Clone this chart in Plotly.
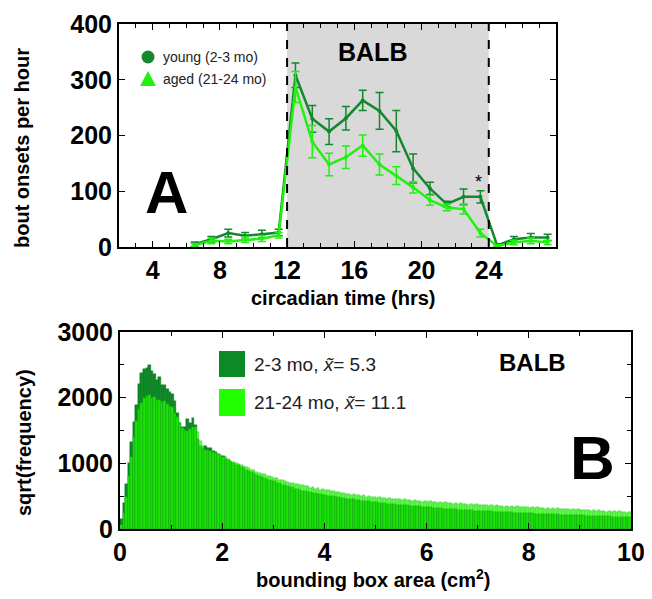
import plotly.graph_objects as go
from plotly.subplots import make_subplots
import numpy as np

# ---------------- Panel A data ----------------
hours = [6.5, 7.5, 8.5, 9.5, 10.5, 11.5, 12.5, 13.5, 14.5, 15.5, 16.5, 17.5,
         18.5, 19.5, 20.5, 21.5, 22.5, 23.5, 24.5, 25.5, 26.5, 27.5]
young_onsets = [5, 14, 25, 20, 23, 26, 308, 230, 207, 231, 263, 244,
                208, 141, 105, 77, 90, 90, 3, 14, 17, 17]
young_err = [4, 5, 7, 6, 7, 6, 22, 24, 23, 21, 18, 33,
             37, 26, 11, 5, 14, 11, 3, 5, 7, 6]
aged_onsets = [3, 11, 10, 13, 15, 21, 287, 189, 148, 161, 182, 148,
               128, 107, 84, 71, 68, 25, 2, 8, 11, 8]
aged_err = [3, 5, 4, 5, 5, 5, 28, 29, 20, 20, 19, 19,
            16, 10, 9, 6, 9, 7, 2, 4, 5, 4]
hour_ticks = [4, 8, 12, 16, 20, 24]
onset_ticks = [0, 100, 200, 300, 400]

# ---------------- Panel B data ----------------
bin_width = 0.05
young_sqrtfreq = [
    150, 390, 690, 1010, 1320, 1630, 1890, 2210, 2370, 2430,
    2450, 2490, 2400, 2360, 2270, 2310, 2200, 2190, 2130, 2090,
    2050, 1950, 1770, 1610, 1560, 1550, 1670, 1620, 1690, 1580,
    1370, 1270, 1240, 1260, 1230, 1240, 1190, 1180, 1140, 1110,
    1110, 1070, 1050, 1020, 1010, 980, 970, 940, 930, 900,
    890, 865, 850, 830, 805, 795, 775, 760, 745, 730,
    725, 700, 695, 675, 665, 655, 640, 635, 615, 605,
    600, 585, 580, 565, 560, 548, 545, 532, 528, 518,
    515, 508, 498, 496, 484, 482, 472, 470, 462, 460,
    452, 450, 442, 441, 433, 431, 424, 421, 412, 410,
    406, 403, 398, 396, 388, 386, 381, 379, 372, 370,
    366, 365, 358, 357, 351, 350, 344, 343, 337, 336,
    332, 331, 325, 323, 318, 317, 311, 309, 304, 302,
    299, 298, 294, 294, 290, 290, 286, 284, 281, 280,
    277, 276, 272, 272, 268, 268, 265, 263, 261, 260,
    257, 256, 253, 252, 249, 248, 246, 244, 242, 241,
    239, 238, 235, 235, 232, 231, 229, 228, 225, 224,
    222, 222, 219, 218, 216, 215, 213, 212, 210, 209,
    207, 206, 204, 203, 201, 200, 198, 197, 195, 194,
    192, 191, 189, 188, 186, 185, 183, 182, 180, 178,
]
aged_sqrtfreq = [
    60, 250, 490, 810, 1090, 1400, 1640, 1830, 1920, 1990,
    2020, 2040, 2000, 2010, 1970, 1960, 1940, 1950, 1900, 1870,
    1860, 1770, 1700, 1610, 1540, 1510, 1490, 1520, 1550, 1560,
    1480, 1340, 1260, 1210, 1200, 1190, 1170, 1160, 1140, 1120,
    1100, 1090, 1060, 1040, 1020, 1000, 990, 975, 960, 945,
    935, 905, 900, 870, 860, 840, 835, 810, 800, 790,
    780, 770, 745, 750, 725, 720, 705, 700, 690, 680,
    665, 675, 650, 655, 630, 640, 615, 625, 600, 610,
    590, 600, 575, 580, 560, 568, 545, 555, 535, 540,
    525, 535, 512, 520, 500, 515, 495, 500, 488, 492,
    475, 490, 470, 478, 460, 470, 455, 462, 450, 455,
    440, 452, 436, 445, 430, 440, 425, 432, 418, 428,
    410, 420, 405, 416, 400, 412, 395, 405, 392, 400,
    385, 396, 380, 390, 378, 386, 372, 382, 368, 376,
    362, 372, 358, 368, 355, 364, 350, 360, 347, 355,
    342, 352, 338, 348, 335, 344, 332, 340, 328, 336,
    322, 332, 318, 328, 315, 325, 312, 320, 308, 318,
    305, 314, 300, 310, 298, 306, 294, 302, 290, 300,
    286, 296, 282, 290, 278, 288, 275, 284, 272, 280,
    266, 276, 262, 270, 258, 268, 255, 262, 250, 258,
]
area_ticks = [0, 2, 4, 6, 8, 10]
freq_ticks = [0, 1000, 2000, 3000]
bin_centers = np.arange(len(young_sqrtfreq)) * bin_width + bin_width / 2

# ---------------- styling ----------------
FONT = "Liberation Sans, Arial, Helvetica, sans-serif"
YOUNG = "#13882c"
AGED = "#22f011"
YOUNG_BAR = "#0c8a25"
AGED_BAR = "#22ff00"
# the page body has an 8px margin: the figure is sized to fill the rest
OFF = 8
W, H = 652 - OFF, 599 - OFF


def px(x):
    return (x - OFF) / W


def py(y):
    return 1 - (y - OFF) / H


fig = make_subplots(rows=2, cols=1)

fig.add_trace(go.Scatter(
    x=hours, y=young_onsets, mode="lines+markers",
    line=dict(color=YOUNG, width=2.5), marker=dict(size=4, color=YOUNG),
    error_y=dict(type="data", array=young_err, color=YOUNG, thickness=1.5, width=4),
    showlegend=False, cliponaxis=False), row=1, col=1)
fig.add_trace(go.Scatter(
    x=hours, y=aged_onsets, mode="lines+markers",
    line=dict(color=AGED, width=2.5), marker=dict(size=4, color=AGED),
    error_y=dict(type="data", array=aged_err, color=AGED, thickness=1.5, width=4),
    showlegend=False, cliponaxis=False), row=1, col=1)

fig.add_trace(go.Bar(
    x=bin_centers, y=young_sqrtfreq, width=bin_width,
    marker=dict(color=YOUNG_BAR, line=dict(width=0.4, color="#086a1c")),
    showlegend=False), row=2, col=1)
fig.add_trace(go.Bar(
    x=bin_centers, y=aged_sqrtfreq, width=bin_width, opacity=0.75,
    marker=dict(color=AGED_BAR, line=dict(width=0.4, color="#0fa80f")),
    showlegend=False), row=2, col=1)

tickfont = dict(family=FONT, size=25, color="black", weight="bold")
common = dict(showline=True, linecolor="black", linewidth=2, mirror="ticks",
              ticks="inside", ticklen=6, tickwidth=1.2, tickcolor="black",
              showgrid=False, zeroline=False, tickfont=tickfont, automargin=False)

fig.update_xaxes(range=[2, 28], tickvals=hour_ticks,
                 minor=dict(dtick=1, ticks="inside", ticklen=4, tickcolor="black", tickwidth=1),
                 domain=[px(119), px(556)], row=1, col=1, **common)
fig.update_yaxes(range=[0, 400], tickvals=onset_ticks,
                 domain=[py(247), py(24)], row=1, col=1, **common)
fig.update_xaxes(range=[0, 10], tickvals=area_ticks,
                 minor=dict(dtick=1, ticks="inside", ticklen=4, tickcolor="black", tickwidth=1),
                 domain=[px(120), px(631)], row=2, col=1, **common)
fig.update_yaxes(range=[0, 3000], tickvals=freq_ticks,
                 minor=dict(dtick=500, ticks="inside", ticklen=4, tickcolor="black", tickwidth=1),
                 domain=[py(529), py(332)], row=2, col=1, **common)

shapes = [
    dict(type="rect", xref="x", yref="y domain", x0=12, x1=24, y0=0, y1=1,
         fillcolor="#d9d9d9", line=dict(width=0), layer="below"),
    dict(type="line", xref="x", yref="y domain", x0=12, x1=12, y0=0, y1=1,
         line=dict(color="black", width=2, dash="dash")),
    dict(type="line", xref="x", yref="y domain", x0=24, x1=24, y0=0, y1=1,
         line=dict(color="black", width=2, dash="dash")),
    # legend A symbols
    dict(type="circle", xref="paper", yref="paper",
         x0=px(141.5), x1=px(154.5), y0=py(63.5), y1=py(50.5),
         fillcolor=YOUNG, line=dict(width=0)),
    dict(type="path", xref="paper", yref="paper",
         path=f"M {px(140)} {py(86)} L {px(156)} {py(86)} L {px(148)} {py(71)} Z",
         fillcolor=AGED, line=dict(width=0)),
    # legend B swatches
    dict(type="rect", xref="paper", yref="paper",
         x0=px(219), x1=px(245), y0=py(377), y1=py(351),
         fillcolor=YOUNG_BAR, line=dict(width=0)),
    dict(type="rect", xref="paper", yref="paper",
         x0=px(219), x1=px(245), y0=py(416), y1=py(389),
         fillcolor=AGED_BAR, line=dict(width=0)),
]

ann = []


def text(x, y, s, size, bold=False, xanchor="center", angle=0, color="black"):
    ann.append(dict(x=px(x), y=py(y), xref="paper", yref="paper", text=s,
                    showarrow=False, xanchor=xanchor, yanchor="middle",
                    textangle=angle,
                    font=dict(family=FONT, size=size, color=color,
                              weight="bold" if bold else "normal")))


text(22, 148, "bout onsets per hour", 20, bold=True, angle=-90)
text(343, 298, "circadian time (hrs)", 20, bold=True)
text(24, 443, "sqrt(frequency)", 20, bold=True, angle=-90)
text(373, 578, "bounding box area (cm<sup>2</sup>)", 20, bold=True)
text(372, 52, "BALB", 25, bold=True)
text(532, 362, "BALB", 24, bold=True)
text(166, 192, "A", 60, bold=True)
text(592, 457, "B", 62, bold=True)
text(478, 182, "*", 18)
text(161, 57, "young (2-3 mo)", 14, xanchor="left", color="#222")
text(161, 79, "aged (21-24 mo)", 14, xanchor="left", color="#222")
text(252, 364, "2-3 mo, <i>x\u0303</i>= 5.3", 19, xanchor="left", color="#222")
text(252, 402, "21-24 mo, <i>x\u0303</i>= 11.1", 19, xanchor="left", color="#222")

fig.update_layout(
    width=W, height=H, margin=dict(l=0, r=0, t=0, b=0),
    paper_bgcolor="white", plot_bgcolor="white",
    barmode="overlay", bargap=0,
    shapes=shapes, annotations=ann, showlegend=False,
    font=dict(family=FONT),
)

fig.write_html("out.html")
